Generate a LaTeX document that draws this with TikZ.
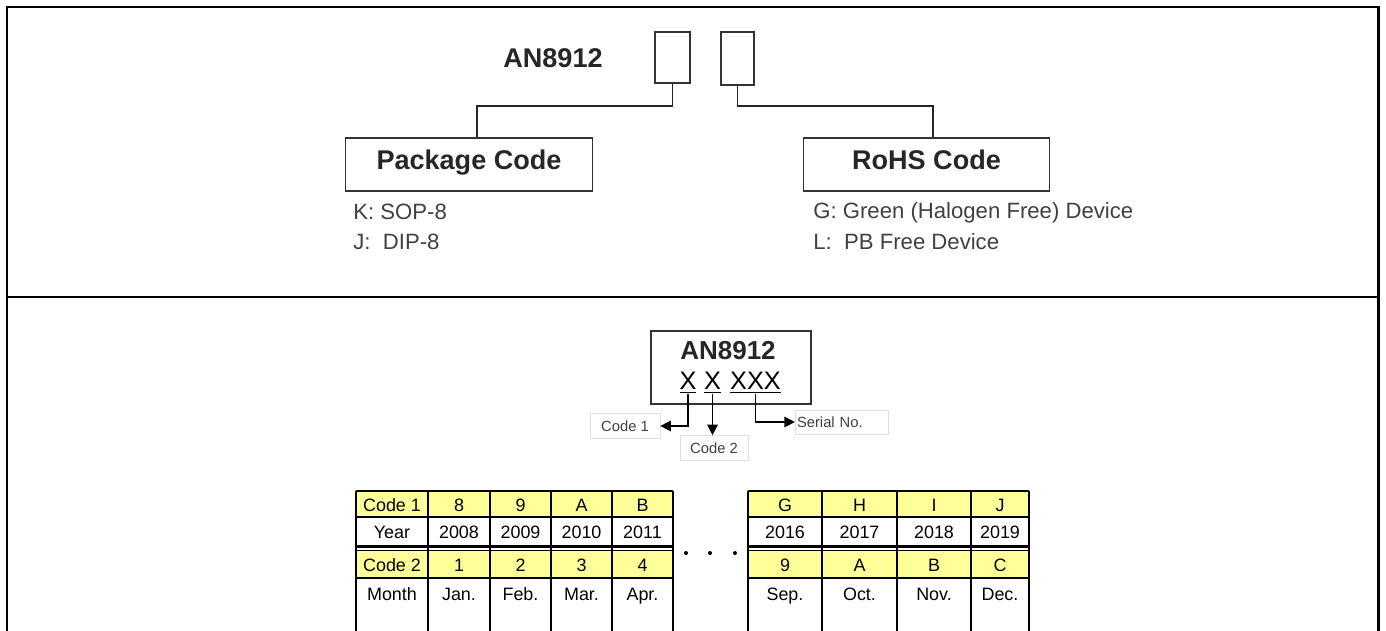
\documentclass[tikz,border=0pt]{standalone}
\usepackage{fontspec}
\setmainfont{Liberation Sans}
\usetikzlibrary{arrows.meta,positioning}
\definecolor{codeyel}{RGB}{255,255,153}
\definecolor{descgray}{RGB}{64,64,64}
\tikzset{
  frameline/.style={line width=1.7pt},
  gridline/.style={line width=1.2pt},
  slotbox/.style={draw=black!80,line width=0.8pt,inner sep=0pt},
  headbox/.style={draw=black!80,line width=0.8pt,minimum width=4.93cm,minimum height=1.06cm,text height=0.72em,text depth=0.1em,font=\fontsize{15.4}{18}\selectfont\bfseries,text=black!85},
  desc/.style={anchor=base west,inner sep=0pt,text=descgray,font=\fontsize{12.6}{15}\selectfont},
  tag/.style={draw=gray!25,line width=0.4pt,inner sep=1pt,text=descgray,font=\fontsize{8.4}{10}\selectfont},
  markchar/.style={inner sep=0pt,font=\fontsize{14.4}{17}\selectfont},
  cell/.style={anchor=base,inner sep=0pt,font=\fontsize{10.2}{12}\selectfont}
}
\begin{document}
\begin{tikzpicture}[x=0.02cm,y=-0.02cm,>={Triangle[length=6pt,width=6pt]}]
\useasboundingbox (0,0) rectangle (1386,631);
\clip (0,0) rectangle (1386,631);
% outer frame and divider
\draw[frameline] (7,660) -- (7,7) -- (1378,7) -- (1378,660);
\draw[frameline] (7,297) -- (1378,297);

% top: ordering code
\node[anchor=base west,inner sep=0pt,font=\fontsize{15.4}{18}\selectfont\bfseries,text=black!85] (part) at (503,68) {AN8912};
\node[slotbox,minimum width=0.7cm,minimum height=1.02cm] (slotpkg) at (672.5,57.5) {};
\node[slotbox,minimum width=0.66cm,minimum height=1.06cm] (slotrohs) at (737.5,58.5) {};
\node[headbox] (pkg) at (469,164.5) {Package Code};
\node[headbox] (rohs) at (926.5,164.5) {RoHS Code};
\coordinate (pkgturn) at (477,106);
\coordinate (rohsturn) at (933,106);
\draw[line width=0.8pt,black!85] (slotpkg.south) |- (pkgturn) -- (pkgturn |- pkg.north);
\draw[line width=0.8pt,black!85] (slotrohs.south) |- (rohsturn) -- (rohsturn |- rohs.north);
\node[desc] (pkgk) at (353,220) {K: SOP-8};
\node[desc] (pkgj) at (353,250) {J:\ \ DIP-8};
\node[desc] (rohsg) at (813,219) {G: Green (Halogen Free) Device};
\node[desc] (rohsl) at (813,250) {L:\ \ PB Free Device};

% bottom: marking
\node[draw=black!80,line width=0.9pt,minimum width=3.2cm,minimum height=1.46cm] (markbox) at (731,367.5) {};
\node[markchar,anchor=base,font=\fontsize{14.8}{17}\selectfont\bfseries,text=black!85] (markpart) at (728,360) {AN8912};
\node[markchar,anchor=base] (xone) at (688,390) {\underline{X}};
\node[markchar,anchor=base] (xtwo) at (712.5,390) {\underline{X}};
\node[markchar,anchor=base] (xthree) at (755.5,390) {\underline{XXX}};
\node[tag,minimum width=1.4cm,minimum height=0.5cm] (codeone) at (625,426) {Code 1};
\node[tag,minimum width=1.36cm,minimum height=0.5cm] (codetwo) at (714,448) {Code 2};
\node[tag,minimum height=0.48cm,text width=1.8cm,align=left] (serial) at (842,422) {Serial No.};
\draw[->,line width=0.8pt] (xone.south) |- (codeone.east);
\draw[->,line width=0.8pt] (xtwo.south) -- (xtwo.south |- codetwo.north);
\draw[->,line width=0.8pt] (xthree.south) |- (serial.west);

% code tables
\fill[codeyel] (356,491) rectangle (673,517); \fill[codeyel] (356,550) rectangle (673,578);
\fill[codeyel] (748,491) rectangle (1029,517); \fill[codeyel] (748,550) rectangle (1029,578);
\draw[gridline] (356,491) -- (673,491) (356,517) -- (673,517) (356,546.5) -- (673,546.5) (356,578) -- (673,578);
\draw[gridline] (748,491) -- (1029,491) (748,517) -- (1029,517) (748,546.5) -- (1029,546.5) (748,578) -- (1029,578);
\draw[line width=0.5pt] (356,550.5) -- (673,550.5) (748,550.5) -- (1029,550.5);
\draw[gridline] (356,491) -- (356,660) (428,491) -- (428,660) (490,491) -- (490,660) (551,491) -- (551,660) (612,491) -- (612,660) (673,491) -- (673,660);
\draw[gridline] (748,491) -- (748,660) (822,491) -- (822,660) (897,491) -- (897,660) (971,491) -- (971,660) (1029,491) -- (1029,660);

% left table
\node[cell] (lc0) at (392,511) {Code 1}; \node[cell] (lc1) at (459,511) {8}; \node[cell] (lc2) at (520.5,511) {9}; \node[cell] (lc3) at (581.5,511) {A}; \node[cell] (lc4) at (642.5,511) {B};
\node[cell] (ly0) at (392,538) {Year}; \node[cell] (ly1) at (459,538) {2008}; \node[cell] (ly2) at (520.5,538) {2009}; \node[cell] (ly3) at (581.5,538) {2010}; \node[cell] (ly4) at (642.5,538) {2011};
\node[cell] (lm0) at (392,571) {Code 2}; \node[cell] (lm1) at (459,571) {1}; \node[cell] (lm2) at (520.5,571) {2}; \node[cell] (lm3) at (581.5,571) {3}; \node[cell] (lm4) at (642.5,571) {4};
\node[cell] (ln0) at (392,600) {Month}; \node[cell] (ln1) at (459,600) {Jan.}; \node[cell] (ln2) at (520.5,600) {Feb.}; \node[cell] (ln3) at (581.5,600) {Mar.}; \node[cell] (ln4) at (642.5,600) {Apr.};
% right table
\node[cell] (rc1) at (785,511) {G}; \node[cell] (rc2) at (859.5,511) {H}; \node[cell] (rc3) at (934,511) {I}; \node[cell] (rc4) at (1000,511) {J};
\node[cell] (ry1) at (785,538) {2016}; \node[cell] (ry2) at (859.5,538) {2017}; \node[cell] (ry3) at (934,538) {2018}; \node[cell] (ry4) at (1000,538) {2019};
\node[cell] (rm1) at (785,571) {9}; \node[cell] (rm2) at (859.5,571) {A}; \node[cell] (rm3) at (934,571) {B}; \node[cell] (rm4) at (1000,571) {C};
\node[cell] (rn1) at (785,600) {Sep.}; \node[cell] (rn2) at (859.5,600) {Oct.}; \node[cell] (rn3) at (934,600) {Nov.}; \node[cell] (rn4) at (1000,600) {Dec.};
% dots between the tables
\fill (686,553) circle (2); \fill (710,553) circle (2); \fill (735,553) circle (2);
\end{tikzpicture}
\end{document}
